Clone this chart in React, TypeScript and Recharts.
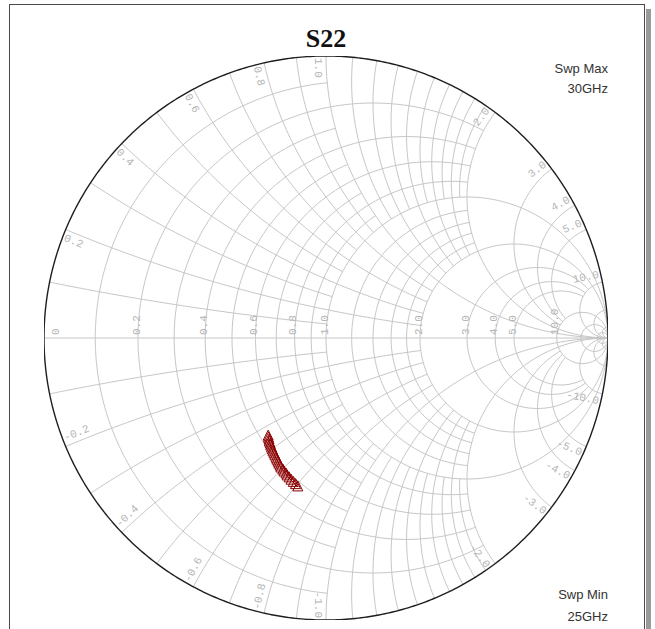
import React from 'react';
import { ScatterChart, Scatter, XAxis, YAxis } from 'recharts';

const CHART_W = 655;
const CHART_H = 629;

// ---- S22 trace (reflection coefficient, real / imag), 25 GHz -> 30 GHz ----
const FREQ_GHZ = [25.0, 25.2, 25.4, 25.6, 25.8, 26.0, 26.2, 26.4, 26.6, 26.8, 27.0, 27.2, 27.4, 27.6, 27.8, 28.0, 28.2, 28.4, 28.6, 28.8, 29.0, 29.2, 29.4, 29.6, 29.8, 30.0];
const S22_RE = [-0.100, -0.108, -0.116, -0.124, -0.131, -0.138, -0.142, -0.149, -0.153, -0.160, -0.163, -0.167, -0.170, -0.174, -0.177, -0.181, -0.184, -0.188, -0.190, -0.193, -0.196, -0.198, -0.201, -0.202, -0.204, -0.205];
const S22_IM = [-0.528, -0.520, -0.512, -0.504, -0.496, -0.489, -0.482, -0.475, -0.468, -0.461, -0.454, -0.447, -0.440, -0.433, -0.426, -0.418, -0.411, -0.404, -0.397, -0.390, -0.383, -0.376, -0.369, -0.362, -0.355, -0.348];

// ---- Smith grid values ----
// resistance circles, with the largest |reactance| up to which each one is drawn
const R_FINE = [0.1, 0.3, 0.5, 0.7, 0.9];
const R_FINE_LIMIT = 1;
const R_MID = [0.2, 0.4, 0.6, 0.8, 1.2, 1.4, 1.6, 1.8];
const R_MID_LIMIT = 2;
const R_OUTER = [3, 4, 5];
const R_OUTER_LIMIT = 10;
const R_FULL = [1, 2, 10, 20, 50];
// reactance arcs, with the largest resistance up to which each one is drawn
const X_FINE = [0.1, 0.3, 0.5, 0.7, 0.9, 1.1, 1.3, 1.5, 1.7, 1.9];
const X_FINE_LIMIT = 1;
const X_MID = [0.2, 0.4, 0.6, 0.8, 1.2, 1.4, 1.6, 1.8];
const X_MID_LIMIT = 2;
const X_OUTER = [3, 4, 5];
const X_OUTER_LIMIT = 10;
const X_FULL = [1, 2, 10, 20, 50];

const AXIS_LABELS = [0, 0.2, 0.4, 0.6, 0.8, 1, 2, 3, 4, 5, 10];
const EDGE_LABELS = [0.2, 0.4, 0.6, 0.8, 1, 2, 3, 4, 5, 10];

const TITLE = 'S22';
const SWP_MAX = ['Swp Max', '30GHz'];
const SWP_MIN = ['Swp Min', '25GHz'];

type P = { x: number; y: number };
const PX = 282; // approx pixels per unit (sampling density only)

function gamma(r: number, x: number): P {
  const a = r - 1, b = x, c = r + 1, d = x;
  const den = c * c + d * d;
  return { x: (a * c + b * d) / den, y: (b * c - a * d) / den };
}

function rCircle(r: number, xmax: number): P[] {
  const c0 = r / (1 + r);
  const rho = 1 / (1 + r);
  let a0 = 0, a1 = 2 * Math.PI;
  if (isFinite(xmax)) {
    const p = gamma(r, xmax);
    a0 = Math.atan2(p.y, p.x - c0);
    a1 = 2 * Math.PI - a0;
  }
  const n = Math.max(8, Math.ceil(((a1 - a0) * rho * PX) / 3));
  const pts: P[] = [];
  for (let i = 0; i <= n; i++) {
    const a = a0 + ((a1 - a0) * i) / n;
    pts.push({ x: c0 + rho * Math.cos(a), y: rho * Math.sin(a) });
  }
  return pts;
}

function xArc(xv: number, rmax: number): P[] {
  const s = xv < 0 ? -1 : 1;
  const x = Math.abs(xv);
  const cy = 1 / x;
  const rho = 1 / x;
  const p0 = gamma(0, x);
  const a0 = Math.atan2(p0.y - cy, p0.x - 1);
  let a1 = -Math.PI / 2;
  if (isFinite(rmax)) {
    const p1 = gamma(rmax, x);
    a1 = Math.atan2(p1.y - cy, p1.x - 1);
  }
  while (a1 <= a0) a1 += 2 * Math.PI;
  const n = Math.max(6, Math.ceil(((a1 - a0) * rho * PX) / 3));
  const pts: P[] = [];
  for (let i = 0; i <= n; i++) {
    const a = a0 + ((a1 - a0) * i) / n;
    pts.push({ x: 1 + rho * Math.cos(a), y: s * (cy + rho * Math.sin(a)) });
  }
  return pts;
}

const gridArcs: P[][] = [];
const addR = (list: number[], lim: number) => list.forEach((r) => gridArcs.push(rCircle(r, lim)));
const addX = (list: number[], lim: number) =>
  list.forEach((x) => { gridArcs.push(xArc(x, lim)); gridArcs.push(xArc(-x, lim)); });
addR(R_FINE, R_FINE_LIMIT);
addR(R_MID, R_MID_LIMIT);
addR(R_OUTER, R_OUTER_LIMIT);
addR(R_FULL, Infinity);
addX(X_FINE, X_FINE_LIMIT);
addX(X_MID, X_MID_LIMIT);
addX(X_OUTER, X_OUTER_LIMIT);
addX(X_FULL, Infinity);
gridArcs.push([{ x: -1, y: 0 }, { x: 1, y: 0 }]);

const outerCircle = rCircle(0, Infinity);

const fmt = (v: number) => (v === 0 ? '0' : v.toFixed(1));

const axisLabelData = AXIS_LABELS.map((r) => ({ x: (r - 1) / (r + 1), y: 0, text: fmt(r), r }));
const edgeLabelData: any[] = [];
EDGE_LABELS.forEach((v) => {
  [v, -v].forEach((xv) => {
    const p = gamma(0, xv);
    edgeLabelData.push({ x: p.x, y: p.y, text: fmt(xv), theta: Math.atan2(p.y, p.x) });
  });
});

const traceData = FREQ_GHZ.map((f, i) => ({ f, x: S22_RE[i], y: S22_IM[i] }));

const LABEL_COLOR = '#b5b5b5';
const LABEL_FONT = '"Liberation Mono", "DejaVu Sans Mono", monospace';

const AxisLabelShape = (props: any) => {
  const { cx, cy, payload } = props;
  if (cx == null || cy == null) return null;
  const dx = payload.r === 0 ? 14.5 : 1.5;
  return (
    <text
      transform={`translate(${cx + dx},${cy - 3}) rotate(-90)`}
      textAnchor="start"
      fontFamily={LABEL_FONT}
      fontSize={11}
      fill={LABEL_COLOR}
    >
      {payload.text}
    </text>
  );
};

const EdgeLabelShape = (props: any) => {
  const { cx, cy, payload } = props;
  if (cx == null || cy == null) return null;
  const th = payload.theta;
  const inX = -Math.cos(th), inY = Math.sin(th);
  const tX = th > 0 ? -Math.sin(th) : Math.sin(th);
  const tY = th > 0 ? -Math.cos(th) : Math.cos(th);
  const px = cx + inX * 2 + tX * 8;
  const py = cy + inY * 2 + tY * 8;
  let phi = (Math.atan2(inY, inX) * 180) / Math.PI;
  let anchor = 'start';
  if (phi > 90.001 || phi <= -89.999) {
    phi = phi > 0 ? phi - 180 : phi + 180;
    anchor = 'end';
  }
  return (
    <text
      transform={`translate(${px},${py}) rotate(${phi})`}
      textAnchor={anchor as any}
      dominantBaseline="central"
      fontFamily={LABEL_FONT}
      fontSize={11}
      fill={LABEL_COLOR}
    >
      {payload.text}
    </text>
  );
};

const TriangleShape = (props: any) => {
  const { cx, cy } = props;
  if (cx == null || cy == null) return null;
  return (
    <polygon
      points={`${cx},${cy - 6} ${cx - 5},${cy + 4} ${cx + 5},${cy + 4}`}
      fill="none"
      stroke="#8b0000"
      strokeWidth={1}
    />
  );
};

const NoShape = () => null;

export default function App() {
  return (
    <div style={{ position: 'absolute', left: 0, top: 0, width: CHART_W, height: CHART_H, background: '#fff', overflow: 'hidden' }}>
      <div style={{ position: 'absolute', left: 9, top: 4, width: 634, height: 700, border: '1px solid #4a4a4a' }} />
      <div style={{ position: 'absolute', left: 646, top: 9, width: 5, height: 700, background: '#9a9a9a' }} />
      <div style={{ position: 'absolute', left: 0, top: 0 }}>
        <ScatterChart width={CHART_W} height={CHART_H} margin={{ top: 56, right: 47, bottom: 9, left: 44 }}>
          <XAxis type="number" dataKey="x" domain={[-1, 1]} allowDataOverflow hide />
          <YAxis type="number" dataKey="y" domain={[-1, 1]} allowDataOverflow hide />
          {gridArcs.map((pts, i) => (
            <Scatter
              key={`g${i}`}
              data={pts}
              line={{ stroke: '#c6c6c6', strokeWidth: 1 }}
              shape={NoShape as any}
              fill="none"
              isAnimationActive={false}
            />
          ))}
          <Scatter
            data={outerCircle}
            line={{ stroke: '#1e1e1e', strokeWidth: 1.4 }}
            shape={NoShape as any}
            fill="none"
            isAnimationActive={false}
          />
          <Scatter data={axisLabelData} shape={AxisLabelShape as any} isAnimationActive={false} />
          <Scatter data={edgeLabelData} shape={EdgeLabelShape as any} isAnimationActive={false} />
          <Scatter
            data={traceData}
            line={{ stroke: '#8b0000', strokeWidth: 1 }}
            shape={TriangleShape as any}
            fill="none"
            isAnimationActive={false}
          />
        </ScatterChart>
      </div>
      <svg width={CHART_W} height={CHART_H} style={{ position: 'absolute', left: 0, top: 0, pointerEvents: 'none' }}>
        <text x={326} y={47} textAnchor="middle" fontFamily='"Liberation Serif", "Times New Roman", serif' fontWeight="bold" fontSize={26} fill="#111">
          {TITLE}
        </text>
        <text x={608} y={73} textAnchor="end" fontFamily='"Liberation Sans", Arial, sans-serif' fontSize={13} fill="#333">{SWP_MAX[0]}</text>
        <text x={608} y={93} textAnchor="end" fontFamily='"Liberation Sans", Arial, sans-serif' fontSize={13} fill="#333">{SWP_MAX[1]}</text>
        <text x={608} y={599} textAnchor="end" fontFamily='"Liberation Sans", Arial, sans-serif' fontSize={13} fill="#333">{SWP_MIN[0]}</text>
        <text x={608} y={621} textAnchor="end" fontFamily='"Liberation Sans", Arial, sans-serif' fontSize={13} fill="#333">{SWP_MIN[1]}</text>
      </svg>
    </div>
  );
}
